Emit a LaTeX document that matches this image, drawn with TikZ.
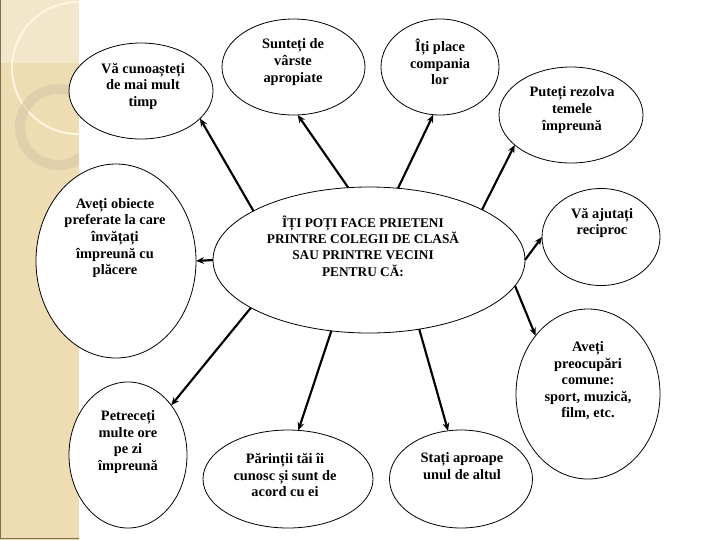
\documentclass[tikz,border=0pt]{standalone}
\usepackage{fontspec}
\setmainfont{Liberation Serif}
\usetikzlibrary{shapes.geometric,arrows.meta}
\definecolor{strip}{HTML}{EEDCB3}
\definecolor{striplight}{HTML}{F3E7CB}
\definecolor{cream}{HTML}{FFF6E0}
\definecolor{ringc}{HTML}{D6C8A6}
\definecolor{stripedge}{HTML}{7F6F50}
\begin{document}
\begin{tikzpicture}[x=0.75pt,y=-0.75pt,
  ell/.style={draw=black, line width=0.6pt, ellipse, inner sep=0pt, outer sep=0pt, fill=white},
  lab/.style={align=center, font=\fontsize{10.8}{12.4}\selectfont\bfseries, inner sep=0pt},
  clab/.style={lab, font=\fontsize{10}{12.2}\selectfont\bfseries},
  arr/.style={line width=1.6pt, -{Stealth[length=6pt,width=5pt]}}]
\useasboundingbox (0,0) rectangle (720,540);
\fill[white] (0,0) rectangle (720,540);
% decorative strip
\begin{scope}
  \clip (0,0) rectangle (79,540);
  \fill[strip] (0,0) rectangle (79,540);
  \fill[striplight] (0,0) rectangle (79,63);
  \draw[cream, line width=1.5pt] (78,68) circle[radius=66];
  \draw[ringc, line width=7.5pt, opacity=.6] (58,127) circle[radius=38];
\end{scope}
\draw[stripedge, line width=1pt] (0.5,0) -- (0.5,538.5) -- (79,538.5);
% ellipses
\node[ell, minimum width=234pt, minimum height=109.5pt] (C) at (369,260) {};
\node[ell, minimum width=108pt, minimum height=72pt] (n1) at (141,91) {};
\node[ell, minimum width=120pt, minimum height=145.5pt] (n2) at (116,261) {};
\node[ell, minimum width=107.25pt, minimum height=72pt] (n3) at (293.5,67) {};
\node[ell, minimum width=88.5pt, minimum height=72pt] (n4) at (440,67) {};
\node[ell, minimum width=108pt, minimum height=72pt] (n5) at (571,115) {};
\node[ell, minimum width=88.5pt, minimum height=72.75pt] (n6) at (601,237) {};
\node[ell, minimum width=108pt, minimum height=127.5pt] (n8) at (588,394) {};
\node[ell, minimum width=107.25pt, minimum height=73.5pt] (n9) at (461,479) {};
\node[ell, minimum width=127.5pt, minimum height=73.5pt] (n10) at (288,479) {};
\node[ell, minimum width=88.5pt, minimum height=109.5pt] (n11) at (128,455) {};
% texts
\node[lab] (t1) at (143,86) {Vă cunoașteți\\de mai mult\\timp};
\node[lab] (t2) at (115,238) {Aveți obiecte\\preferate la care\\învățați\\împreună cu\\plăcere};
\node[lab] (t3) at (293,62) {Sunteți de\\vârste\\apropiate};
\node[lab] (t4) at (440,62) {Îți place\\compania\\lor};
\node[lab] (t5) at (572,110) {Puteți rezolva\\temele\\împreună};
\node[lab] (t6) at (602,223) {Vă ajutați\\reciproc};
\node[clab] (tC) at (363,246) {ÎȚI POȚI FACE PRIETENI\\PRINTRE COLEGII DE CLASĂ\\SAU PRINTRE VECINI\\PENTRU CĂ:};
\node[lab] (t8) at (588,381) {Aveți\\preocupări\\comune:\\sport, muzică,\\film, etc.};
\node[lab] (t9) at (462,466) {Stați aproape\\unul de altul};
\node[lab] (t10) at (285,475) {Părinții tăi îi\\cunosc și sunt de\\acord cu ei};
\node[lab] (t11) at (128,442) {Petreceți\\multe ore\\pe zi\\împreună};
% arrows
\draw[arr] (C.157) -- (n1.-25);
\draw[arr] (C.180) -- (n2.0);
\draw[arr] (C.106) -- (n3.-85);
\draw[arr] (C.68) -- (n4.-98);
\draw[arr] (C.24) -- (n5.-152);
\draw[arr] (C.0) -- (n6.180);
\draw[arr] (C.-10) -- (n8.132);
\draw[arr] (C.-54) -- (n9.105);
\draw[arr] (C.-118) -- (n10.78);
\draw[arr] (C.-158) -- (n11.49);
\end{tikzpicture}
\end{document}
